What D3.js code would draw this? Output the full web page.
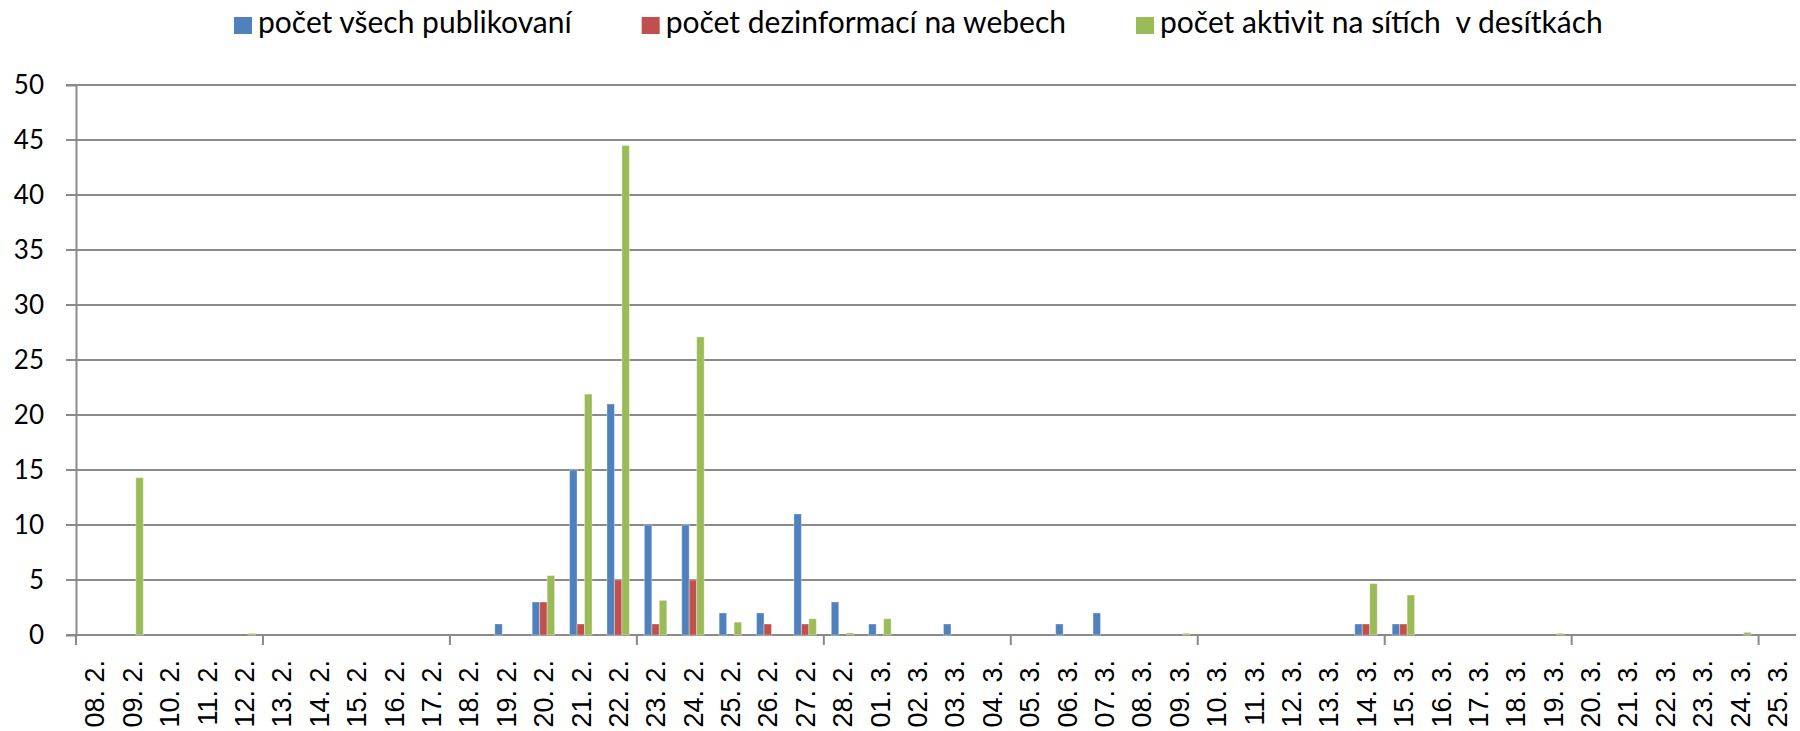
<!DOCTYPE html>
<html>
<head>
<meta charset="utf-8">
<script src="https://cdn.jsdelivr.net/npm/d3@7"></script>
<style>
  body { margin: 0; background: #fff; }
  svg { display: block; }
  .legend text { white-space: pre; }
</style>
</head>
<body>
<script>
// days on the x axis
var days = ["08. 2.","09. 2.","10. 2.","11. 2.","12. 2.","13. 2.","14. 2.","15. 2.","16. 2.","17. 2.",
            "18. 2.","19. 2.","20. 2.","21. 2.","22. 2.","23. 2.","24. 2.","25. 2.","26. 2.","27. 2.",
            "28. 2.","01. 3.","02. 3.","03. 3.","04. 3.","05. 3.","06. 3.","07. 3.","08. 3.","09. 3.",
            "10. 3.","11. 3.","12. 3.","13. 3.","14. 3.","15. 3.","16. 3.","17. 3.","18. 3.","19. 3.",
            "20. 3.","21. 3.","22. 3.","23. 3.","24. 3.","25. 3."];

var seriesNames = ["počet všech publikovaní", "počet dezinformací na webech", "počet aktivit na sítích  v desítkách"];

var publikovani = [0,0,0,0,0,0,0,0,0,0, 0,1,3,15,21,10,10,2,2,11, 3,1,0,1,0,0,1,2,0,0, 0,0,0,0,1,1,0,0,0,0, 0,0,0,0,0,0];
var dezinformace = [0,0,0,0,0,0,0,0,0,0, 0,0,3,1,5,1,5,0,1,1, 0,0,0,0,0,0,0,0,0,0, 0,0,0,0,1,1,0,0,0,0, 0,0,0,0,0,0];
var aktivity = [0,14.3,0,0,0.15,0,0,0,0,0, 0,0,5.4,21.9,44.5,3.15,27.1,1.17,0,1.48, 0.18,1.48,0,0,0,0,0,0,0,0.15, 0,0,0,0,4.67,3.64,0,0,0,0.15, 0,0,0,0,0.24,0];

var yTicks = [0,5,10,15,20,25,30,35,40,45,50];
var colors = ["#4F81BD", "#C0504D", "#9BBB59"];

var W = 1800, H = 731;
var margin = {top: 85, left: 76, right: 4, bottom: 96};
var width = W - margin.left - margin.right,
    height = H - margin.top - margin.bottom;

var svg = d3.select("body").append("svg")
    .attr("width", W)
    .attr("height", H);

var g = svg.append("g")
    .attr("transform", "translate(" + margin.left + "," + margin.top + ")");

var x = d3.scaleBand().domain(days).range([0, width]).padding(0);
var xInner = d3.scaleBand().domain([0,1,2]).range([0, x.bandwidth()]).paddingInner(0).paddingOuter(1);
var y = d3.scaleLinear().domain([0, 50]).range([height, 0]);

// gridlines
g.selectAll(".grid")
    .data(yTicks)
    .enter().append("line")
    .attr("class", "grid")
    .attr("x1", -10).attr("x2", width)
    .attr("y1", function(d) { return y(d); })
    .attr("y2", function(d) { return y(d); })
    .attr("stroke", "#8a8a8a")
    .attr("stroke-width", 2);

// bars
var data = [publikovani, dezinformace, aktivity];
data.forEach(function(values, si) {
  g.selectAll(".bar" + si)
    .data(values)
    .enter().append("rect")
    .attr("class", "bar" + si)
    .attr("x", function(d, i) { return x(days[i]) + xInner(si); })
    .attr("width", xInner.bandwidth())
    .attr("y", function(d) { return y(d); })
    .attr("height", function(d) { return height - y(d); })
    .attr("fill", colors[si])
    .attr("stroke", function(d) { return d > 0 ? "#fff" : "none"; })
    .attr("stroke-opacity", 0.35)
    .attr("stroke-width", 1);
});

// y axis
var yAxis = g.append("g")
    .call(d3.axisLeft(y).tickValues(yTicks).tickSize(10).tickPadding(22));
yAxis.select(".domain").attr("stroke", "#8a8a8a").attr("stroke-width", 2);
yAxis.selectAll(".tick line").attr("stroke", "none");
yAxis.selectAll("text")
    .attr("font-family", "Lato, 'Open Sans', sans-serif")
    .attr("font-size", 26)
    .attr("fill", "#000");

// x axis labels
var xAxis = g.append("g")
    .attr("transform", "translate(0," + height + ")")
    .call(d3.axisBottom(x).tickSize(0));
xAxis.select(".domain").remove();
xAxis.selectAll("text")
    .attr("transform", "rotate(-90)")
    .attr("x", -25)
    .attr("y", 0)
    .attr("dy", "0.36em")
    .attr("text-anchor", "end")
    .attr("font-family", "'Liberation Sans', Arial, sans-serif")
    .attr("font-size", 27)
    .attr("fill", "#000");

// category boundary ticks every 5 days
var tickIdx = d3.range(0, days.length, 5);
g.selectAll(".xtick")
    .data(tickIdx)
    .enter().append("line")
    .attr("x1", function(d) { return x(days[d]); })
    .attr("x2", function(d) { return x(days[d]); })
    .attr("y1", height).attr("y2", height + 10)
    .attr("stroke", "#8a8a8a")
    .attr("stroke-width", 2);

// legend
var legend = svg.append("g").attr("class", "legend");
var lx = 234;
seriesNames.forEach(function(name, i) {
  var item = legend.append("g").attr("transform", "translate(" + lx + ",0)");
  item.append("rect")
    .attr("x", 0).attr("y", 17)
    .attr("width", 18).attr("height", 17)
    .attr("fill", colors[i]);
  var t = item.append("text")
    .attr("x", 24).attr("y", 33)
    .attr("font-family", "Lato, 'Open Sans', sans-serif")
    .attr("font-size", 30)
    .attr("fill", "#000")
    .text(name);
  lx += 24 + t.node().getComputedTextLength() + 70;
});
</script>
</body>
</html>
